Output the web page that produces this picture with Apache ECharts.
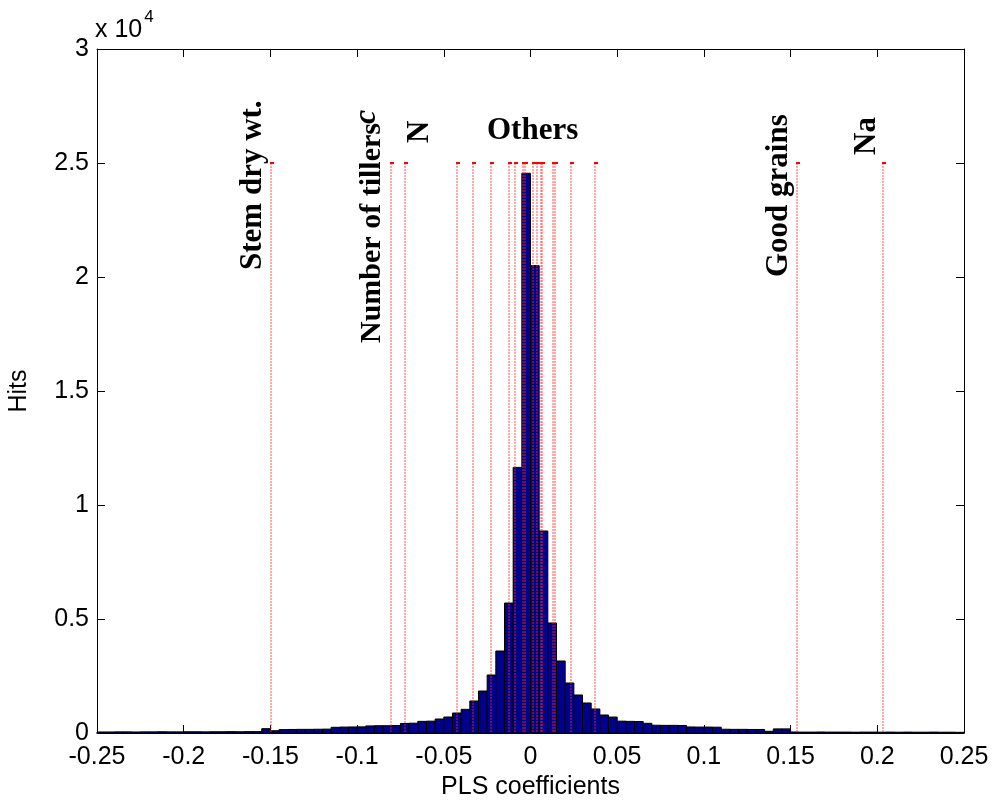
<!DOCTYPE html>
<html>
<head>
<meta charset="utf-8">
<script src="https://cdn.jsdelivr.net/npm/echarts@6/dist/echarts.min.js"></script>
<style>
html,body{margin:0;padding:0;background:#fff;}
#chart{width:997px;height:807px;}
</style>
</head>
<body>
<div id="chart"></div>
<script>
// ---- data ----
const binStart = -0.25;
const binWidth = 0.005;
// histogram counts (hits) per bin, 100 bins from -0.25 to 0.25
const hits = [
  45, 45, 50, 50, 45, 50, 50, 55, 50, 50,
  55, 55, 50, 55, 55, 60, 55, 60, 60, 190,
  100, 150, 155, 160, 160, 165, 170, 250, 260, 265,
  270, 310, 320, 320, 330, 420, 430, 510, 520, 614,
  702, 877, 1038, 1404, 1842, 2544, 3596, 5700, 11650, 24550,
  20500, 8860, 4825, 3158, 2193, 1667, 1316, 1053, 789, 700,
  520, 510, 505, 425, 340, 335, 335, 330, 265, 260,
  260, 255, 165, 160, 160, 155, 155, 75, 180, 180,
  45, 40, 40, 45, 40, 40, 40, 35, 40, 40,
  35, 40, 35, 40, 35, 35, 40, 35, 35, 30
];
// PLS coefficient positions (red stems)
const coefficients = [
  -0.1499, -0.0805, -0.0725, -0.0425, -0.0333, -0.0228, -0.0124, -0.0091,
  -0.0042, -0.0033, 0.0013, 0.0036, 0.0058, 0.0069, 0.0131, 0.0142,
  0.0235, 0.0373, 0.1538, 0.2034
];
const stemHeight = 25000;
const xTicks = { min: -0.25, max: 0.25, interval: 0.05 };
const yTicks = { min: 0, max: 30000, interval: 5000, scale: 10000 };
// annotation texts
const annotations = [
  { text: 'Stem dry wt.', at: [-0.1598, 20307], rotate: true, size: 31 },
  { text: 'Number of tillers', at: [-0.0911, 17105], rotate: true, size: 30, sup: 'c' },
  { text: 'N', at: [-0.0637, 25877], rotate: true, size: 31 },
  { text: 'Others', at: [0.0012, 26400], rotate: false, size: 31 },
  { text: 'Good grains', at: [0.1434, 20000], rotate: true, size: 31 },
  { text: 'Na', at: [0.1941, 25351], rotate: true, size: 31 }
];

// ---- build ----
const histData = hits.map((h, i) => [binStart + i * binWidth, binStart + (i + 1) * binWidth, h]);
const stemData = coefficients.map(c => [c, stemHeight]);

const chart = echarts.init(document.getElementById('chart'), null, { renderer: 'canvas' });
const labelFont = "'Liberation Sans', Arial, Helvetica, sans-serif";
const serifFont = "'Liberation Serif', 'Times New Roman', Times, serif";

function fmtX(v) { return String(parseFloat(v.toFixed(4))); }
function fmtY(v) { return String(parseFloat((v / yTicks.scale).toFixed(4))); }

const tickStyle = { show: true, inside: true, length: 8, lineStyle: { color: '#000', width: 1 } };
const lineStyle = { show: true, onZero: false, lineStyle: { color: '#000', width: 1 } };

chart.setOption({
  animation: false,
  backgroundColor: '#fff',
  grid: { left: 97, right: 33, top: 49, bottom: 74, containLabel: false, outerBoundsMode: 'none' },
  xAxis: [
    {
      type: 'value', min: xTicks.min, max: xTicks.max, interval: xTicks.interval, position: 'bottom',
      axisLine: lineStyle, axisTick: tickStyle, splitLine: { show: false },
      axisLabel: { color: '#000', fontSize: 25, fontFamily: labelFont, margin: 12, formatter: fmtX, showMinLabel: true, showMaxLabel: true, hideOverlap: false },
      name: 'PLS coefficients', nameLocation: 'middle', nameGap: 40,
      nameTextStyle: { color: '#000', fontSize: 25, fontFamily: labelFont }
    },
    {
      type: 'value', min: xTicks.min, max: xTicks.max, interval: xTicks.interval, position: 'top',
      axisLine: lineStyle, axisTick: tickStyle, splitLine: { show: false }, axisLabel: { show: false }
    }
  ],
  yAxis: [
    {
      type: 'value', min: yTicks.min, max: yTicks.max, interval: yTicks.interval, position: 'left',
      axisLine: lineStyle, axisTick: tickStyle, splitLine: { show: false },
      axisLabel: { color: '#000', fontSize: 25, fontFamily: labelFont, margin: 8, formatter: fmtY, showMinLabel: true, showMaxLabel: true, hideOverlap: false },
      name: 'Hits', nameLocation: 'middle', nameGap: 65, nameRotate: 90,
      nameTextStyle: { color: '#000', fontSize: 25, fontFamily: labelFont }
    },
    {
      type: 'value', min: yTicks.min, max: yTicks.max, interval: yTicks.interval, position: 'right',
      axisLine: lineStyle, axisTick: tickStyle, splitLine: { show: false }, axisLabel: { show: false }
    }
  ],
  series: [
    {
      type: 'custom', name: 'hist', xAxisIndex: 0, yAxisIndex: 0, z: 2,
      data: histData,
      encode: { x: [0, 1], y: 2 },
      renderItem: function (params, api) {
        const p0 = api.coord([api.value(0), api.value(2)]);
        const p1 = api.coord([api.value(1), 0]);
        return {
          type: 'rect',
          shape: { x: p0[0], y: p0[1], width: p1[0] - p0[0], height: p1[1] - p0[1] },
          style: { fill: '#00008B', stroke: '#000', lineWidth: 1 }
        };
      }
    },
    {
      type: 'custom', name: 'stems', xAxisIndex: 0, yAxisIndex: 0, z: 5,
      data: stemData,
      encode: { x: 0, y: 1 },
      renderItem: function (params, api) {
        const top = api.coord([api.value(0), api.value(1)]);
        const bot = api.coord([api.value(0), 0]);
        const xx = Math.round(top[0]);
        return {
          type: 'group',
          children: [
            { type: 'line', shape: { x1: xx, y1: top[1], x2: xx, y2: bot[1] },
              style: { stroke: 'rgba(255,40,40,0.8)', lineWidth: 1, lineDash: [2, 1] } },
            { type: 'rect', shape: { x: xx - 1, y: top[1] - 1, width: 4, height: 2 },
              style: { fill: '#ff0000', stroke: null } }
          ]
        };
      }
    }
  ]
});

const measureCtx = document.createElement('canvas').getContext('2d');
function textWidth(t, font) { measureCtx.font = font; return measureCtx.measureText(t).width; }

function px(pt) { return chart.convertToPixel({ xAxisIndex: 0, yAxisIndex: 0 }, pt); }
const graphics = [];
annotations.forEach(a => {
  const p = px(a.at);
  const f = 'bold ' + a.size + 'px ' + serifFont;
  graphics.push({
    type: 'text', x: p[0], y: p[1], rotation: a.rotate ? Math.PI / 2 : 0, z: 10,
    style: {
      text: a.text, fill: '#000', font: f,
      textAlign: a.rotate ? 'left' : 'center', textVerticalAlign: 'middle'
    }
  });
  if (a.sup) {
    const w = textWidth(a.text, f);
    graphics.push({
      type: 'text', x: p[0] - 6, y: p[1] - w + 1, rotation: Math.PI / 2, z: 10,
      style: { text: a.sup, fill: '#000', font: 'italic bold 32px ' + serifFont, textAlign: 'left', textVerticalAlign: 'middle' }
    });
  }
});
{
  const p = px([xTicks.min, yTicks.max]);
  const f1 = '25px ' + labelFont;
  graphics.push({
    type: 'text', x: p[0] - 2, y: p[1] - 19, z: 10,
    style: { text: 'x 10', fill: '#000', font: f1, textAlign: 'left', textVerticalAlign: 'middle' }
  });
  graphics.push({
    type: 'text', x: p[0] - 2 + textWidth('x 10', f1) + 2, y: p[1] - 32, z: 10,
    style: { text: '4', fill: '#000', font: '17px ' + labelFont, textAlign: 'left', textVerticalAlign: 'middle' }
  });
}
chart.setOption({ graphic: graphics });
</script>
</body>
</html>
